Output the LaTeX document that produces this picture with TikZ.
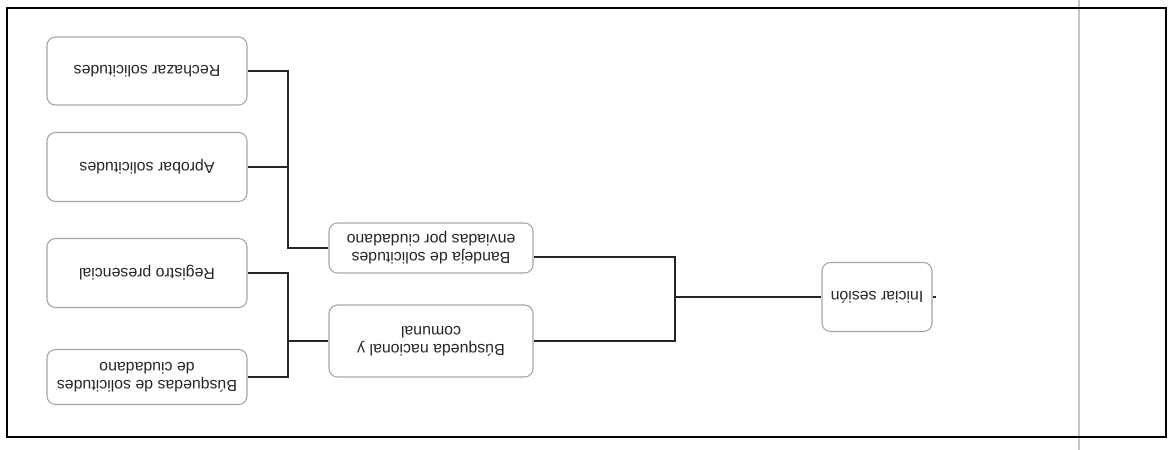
\documentclass[tikz,border=0pt]{standalone}
\usepackage{fontspec}
\setmainfont{Liberation Sans}
\usetikzlibrary{calc}

\begin{document}
\begin{tikzpicture}[x=0.25mm, y=-0.25mm,
    box/.style = {draw=gray!70, line width=0.8pt, rounded corners=6pt, rotate=180,
                  align=center, text=black!85, font=\fontsize{11.3}{12.8}\selectfont,
                  inner sep=0pt},
    wire/.style = {line width=0.9pt, black!85},
]
\useasboundingbox (0,0) rectangle (1176,450);

% outer frame and the grey fold
\draw[gray!45, line width=2pt] (1079,0) -- (1079,450);
\draw[line width=1.6pt] (7,8) rectangle (1166,437);

\node[box, minimum width=50mm, minimum height=17mm] (rech) at (147,71) {Rechazar solicitudes};
\node[box, minimum width=50mm, minimum height=17.25mm] (apro) at (147,167) {Aprobar solicitudes};
\node[box, minimum width=50mm, minimum height=17.25mm] (regi) at (147,273) {Registro presencial};
\node[box, minimum width=50mm, minimum height=13.75mm] (busq) at (147,377) {Búsquedas de solicitudes\\de ciudadano};

\node[box, minimum width=51mm, minimum height=12.5mm] (band) at (431,248) {Bandeja de solicitudes\\enviadas por ciudadano};
\node[box, minimum width=51mm, minimum height=18mm] (nac) at (431,341) {Búsqueda nacional y\\comunal};

\node[box, minimum width=27.5mm, minimum height=17.25mm] (ini) at (877,297) {Iniciar sesión};

\coordinate (b1) at (288,0);
\coordinate (j2) at (675,297);

% boxes are turned round, so .west is on the right
\draw[wire] (rech.west) -| (b1 |- band) -- (band.east);
\draw[wire] (apro.west) -- (b1 |- apro);
\draw[wire] (regi.west) -| (b1 |- nac) -- (nac.east);
\draw[wire] (busq.west) -| (b1 |- nac);

\draw[wire] ([yshift=-2.25mm]band.west) -| (j2) |- (nac.west);
\draw[wire] (j2) -- (ini.east);
\draw[wire] (ini.west) -- ++(3,0);

\end{tikzpicture}
\end{document}
